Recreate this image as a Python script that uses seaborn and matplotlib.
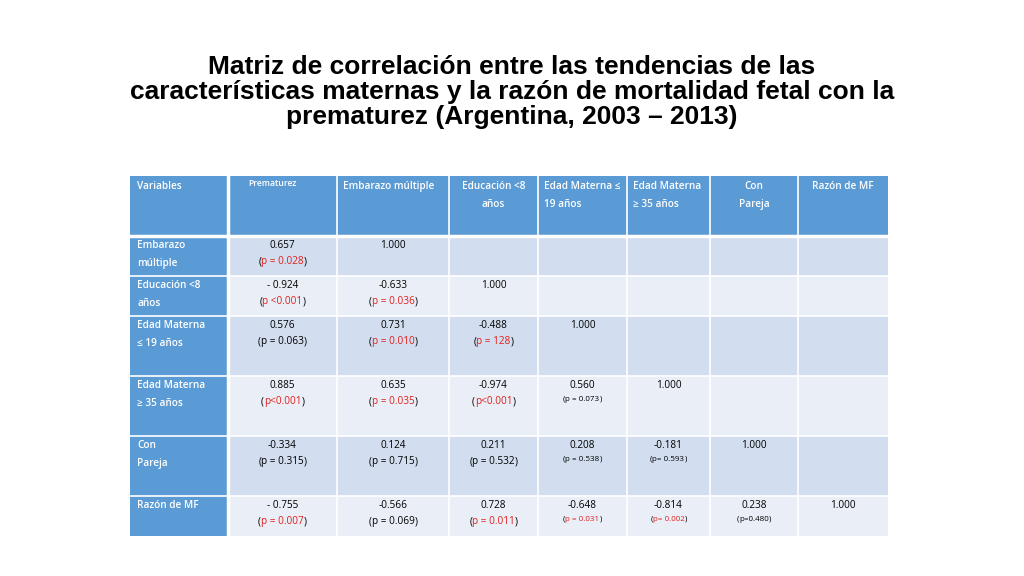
import numpy as np
import matplotlib
matplotlib.use("Agg")
import matplotlib.pyplot as plt
from matplotlib.colors import ListedColormap
import seaborn as sns

# ===== datos =====
title = ("Matriz de correlación entre las tendencias de las\n"
         "características maternas y la razón de mortalidad fetal con la\n"
         "prematurez (Argentina, 2003 – 2013)")
col_labels = ["Variables", "Prematurez", "Embarazo múltiple", "Educación <8\naños",
              "Edad Materna ≤\n19 años", "Edad Materna\n≥ 35 años", "Con\nPareja", "Razón de MF"]
row_labels = ["Embarazo\nmúltiple", "Educación <8\naños", "Edad Materna\n≤ 19 años",
              "Edad Materna\n≥ 35 años", "Con\nPareja", "Razón de MF"]
corr = [
    ["0.657", "1.000"],
    ["- 0.924", "-0.633", "1.000"],
    ["0.576", "0.731", "-0.488", "1.000"],
    ["0.885", "0.635", "-0.974", "0.560", "1.000"],
    ["-0.334", "0.124", "0.211", "0.208", "-0.181", "1.000"],
    ["- 0.755", "-0.566", "0.728", "-0.648", "-0.814", "0.238", "1.000"],
]
pval = [
    ["p = 0.028"],
    ["p <0.001", "p = 0.036"],
    ["p = 0.063", "p = 0.010", "p = 128"],
    ["p<0.001", "p = 0.035", "p<0.001", "p = 0.073"],
    ["p = 0.315", "p = 0.715", "p = 0.532", "p = 0.538", "p= 0.593"],
    ["p = 0.007", "p = 0.069", "p = 0.011", "p = 0.031", "p= 0.002", "p=0.480"],
]
signif = [
    [1],
    [1, 1],
    [0, 1, 1],
    [1, 1, 1, 0],
    [0, 0, 0, 0, 0],
    [1, 0, 1, 1, 1, 0],
]
small_p = {(3, 3), (4, 3), (4, 4), (5, 3), (5, 4), (5, 5)}

# ===== geometría (pixeles) =====
xb = [0, 98, 207, 319, 408, 497, 580, 668, 758]
yb = [0, 60, 100, 140, 200, 260, 320, 360]
W, H = xb[-1], yb[-1]

grid = np.zeros((H, W))
for r in range(1, len(yb) - 1):
    grid[yb[r]:yb[r + 1], xb[1]:] = 1 if r % 2 == 1 else 2
cmap = ListedColormap(["#5B9BD5", "#D2DEEF", "#EAEFF7"])

fig = plt.figure(figsize=(10.24, 5.76), dpi=100)
fig.text(0.5, 1 - 92 / 576, title, ha="center", va="center", fontsize=19,
         fontweight="bold", family="Liberation Sans", linespacing=1.05)
ax = fig.add_axes([130 / 1024, 40 / 576, W / 1024, H / 576])
sns.heatmap(grid, ax=ax, cmap=cmap, vmin=0, vmax=2, cbar=False,
            xticklabels=False, yticklabels=False, linewidths=0, rasterized=True)
ax.set_xlim(0, W)
ax.set_ylim(H, 0)
for x in xb[1:-1]:
    ax.axvline(x, color="white", lw=1.2)
for y in yb[1:-1]:
    ax.axhline(y, color="white", lw=1.2)
ax.axhline(yb[1], color="white", lw=2.5)
ax.axvline(xb[1], color="white", lw=2.5)

FONT = "Open Sans"
# encabezados
hdr_pos = [(7, "left", 7.2), (20, "left", 6.2), (6, "left", 7.2), (None, "center", 7.2),
           (6, "left", 7.2), (6, "left", 7.2), (None, "center", 7.2), (None, "center", 7.2)]
for i, lab in enumerate(col_labels):
    dx, ha, fs = hdr_pos[i]
    x = xb[i] + dx if dx is not None else (xb[i] + xb[i + 1]) / 2
    ax.text(x, 5 if i != 1 else 3, lab, ha=ha, va="top", color="white", fontsize=fs,
            family=FONT, fontweight="semibold", linespacing=1.9)
for r, lab in enumerate(row_labels):
    ax.text(xb[0] + 7, yb[r + 1] + 4, lab, ha="left", va="top", color="white", fontsize=7.2,
            family=FONT, fontweight="semibold", linespacing=1.9)

fig.canvas.draw()
rend = fig.canvas.get_renderer()
inv = ax.transData.inverted()
for r in range(len(corr)):
    for c, v in enumerate(corr[r]):
        cx = (xb[c + 1] + xb[c + 2]) / 2
        top = yb[r + 1]
        ax.text(cx, top + 4, v, ha="center", va="top", fontsize=7.2, family=FONT)
        if c < len(pval[r]):
            fs = 5.8 if (r, c) in small_p else 7.2
            col = "#E0201B" if signif[r][c] else "black"
            t = ax.text(cx, top + 20, pval[r][c], ha="center", va="top", fontsize=fs,
                        family=FONT, color=col)
            bb = t.get_window_extent(rend)
            x0 = inv.transform((bb.x0, bb.y0))[0]
            x1 = inv.transform((bb.x1, bb.y0))[0]
            ax.text(x0, top + 20, "(", ha="right", va="top", fontsize=fs, family=FONT)
            ax.text(x1, top + 20, ")", ha="left", va="top", fontsize=fs, family=FONT)

fig.savefig("out.png", dpi=100)
